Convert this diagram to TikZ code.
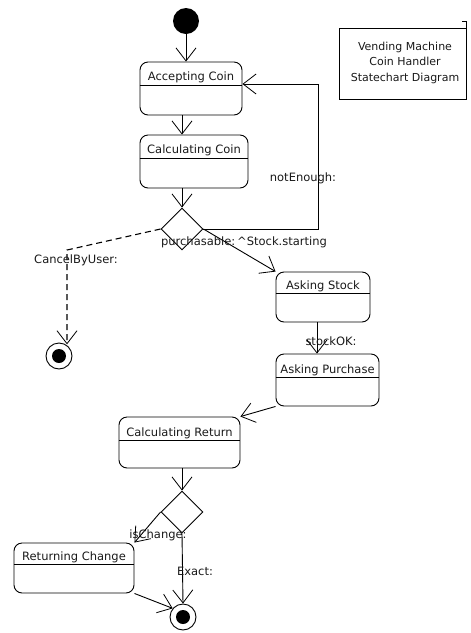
\documentclass[tikz,border=0pt]{standalone}
\usepackage{fontspec}
\setmainfont{DejaVu Sans}
\usetikzlibrary{arrows.meta,shapes.geometric}
\begin{document}
\begin{tikzpicture}[x=1pt,y=-1pt,
  every node/.style={font=\fontsize{11.5}{13}\selectfont, text=black!90},
  statebox/.style={draw, rounded corners=8pt, line width=0.9pt, inner sep=0pt},
  choice/.style={draw, diamond, line width=0.9pt, minimum width=42pt, minimum height=42pt, inner sep=0pt},
  finalst/.style={draw, circle, line width=0.9pt, minimum size=26pt, inner sep=0pt},
  initst/.style={fill=black, circle, minimum size=26pt, inner sep=0pt},
  arr/.style={line width=0.9pt, -{Straight Barb[length=13pt,width=20pt,line width=0.8pt]}},
  dasharr/.style={line width=1.1pt, dash pattern=on 6pt off 4pt, -{Straight Barb[length=13pt,width=20pt,line width=0.8pt]}},
  lbl/.style={inner sep=1pt},
  divline/.style={line width=0.9pt}]
\useasboundingbox (0,0) rectangle (471,633);

% initial state
\node[initst] (init) at (186,21) {};

% state boxes
\node[statebox, minimum width=102pt, minimum height=53pt] (ac) at (191,88.5) {};
\draw[divline] (ac.west |- 0,85) -- (ac.east |- 0,85);
\node (acl) at (191,77) {Accepting Coin};

\node[statebox, minimum width=108pt, minimum height=53pt] (cc) at (194,161.5) {};
\draw[divline] (cc.west |- 0,158) -- (cc.east |- 0,158);
\node (ccl) at (194,150.5) {Calculating Coin};

\node[statebox, minimum width=94pt, minimum height=50pt] (as) at (323,297) {};
\draw[divline] (as.west |- 0,293) -- (as.east |- 0,293);
\node (asl) at (323,286) {Asking Stock};

\node[statebox, minimum width=103pt, minimum height=52pt] (ap) at (327.5,380) {};
\draw[divline] (ap.west |- 0,377) -- (ap.east |- 0,377);
\node (apl) at (327.5,370) {Asking Purchase};

\node[statebox, minimum width=121pt, minimum height=51pt] (cr) at (179.5,442.5) {};
\draw[divline] (cr.west |- 0,440) -- (cr.east |- 0,440);
\node (crl) at (179.5,433) {Calculating Return};

\node[statebox, minimum width=120pt, minimum height=50pt] (rc) at (74,568) {};
\draw[divline] (rc.west |- 0,564) -- (rc.east |- 0,564);
\node (rcl) at (74,557) {Returning Change};

% choice points
\node[choice] (d1) at (182,229) {};
\node[choice] (d2) at (182,512) {};

% final states
\node[finalst] (f1) at (59,356) {};
\fill (f1.center) circle (7);
\node[finalst] (f2) at (183,617) {};
\fill (f2.center) circle (7);

% note
\node[draw, line width=0.9pt, minimum width=127pt, minimum height=71pt, inner sep=0pt] (note) at (402.5,63.5) {};
\node[align=center, font=\fontsize{11}{15.5}\selectfont] (notel) at (405,62.5) {Vending Machine\\Coin Handler\\Statechart Diagram};
\draw[line width=0.9pt] (note.north east) -- ++(0,-6) -- ++(-4,0);

% connectors
\draw[arr] (init.south) -- (init.south |- ac.north);
\draw[arr] (ac.south -| d1.north) -- (cc.north -| d1.north);
\draw[arr] (cc.south -| d1.north) -- (d1.north);

\coordinate (ne) at (318,84);
\draw[arr] (d1.east) -| (ne) -- (ac.east |- ne);
\node[lbl] (nel) at (303,178) {notEnough:};

\draw[arr] (d1.east) -- (as.north west);
\node[lbl] (pl) at (244,242) {purchasable:\,\textasciicircum Stock.starting};

\coordinate (cb) at (67,250);
\draw[dasharr] (d1.west) -- (cb) -- (cb |- f1.60);
\node[lbl] (cbl) at (76,260) {CancelByUser:};

\coordinate (sx) at (317,0);
\draw[arr] (as.south -| sx) -- (ap.north -| sx);
\node[lbl] (skl) at (331,341) {stockOK:};

\draw[arr] (ap.south west) -- (cr.north east);
\draw[arr] (cr.south -| d2.north) -- (d2.north);

\draw[arr] (d2.west) -- (rc.north east);
\node[lbl] (icl) at (158,535) {isChange:};

\draw[arr] (d2.south) -- (f2.north);
\node[lbl] (exl) at (195,571) {Exact:};

\draw[arr] (rc.south east) -- (f2.140);
\end{tikzpicture}
\end{document}
